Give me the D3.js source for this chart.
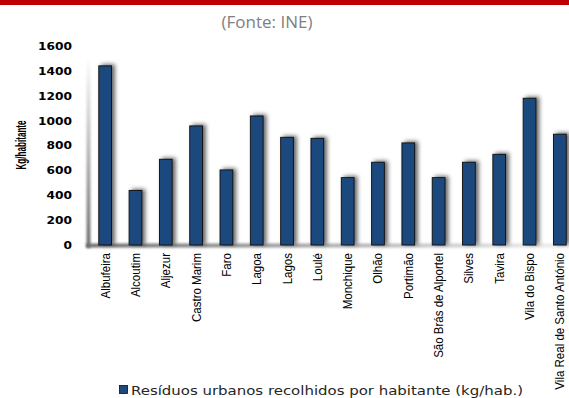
<!DOCTYPE html>
<html>
<head>
<meta charset="utf-8">
<script src="https://cdn.jsdelivr.net/npm/d3@7"></script>
<style>
  html, body { margin: 0; padding: 0; background: #fff; }
  svg { display: block; }
</style>
</head>
<body>
<svg id="chart" width="569" height="398"></svg>
<script>
// Municipalities of the Algarve and urban waste collected per inhabitant
const categories = ["Albufeira", "Alcoutim", "Aljezur", "Castro Marim", "Faro", "Lagoa",
  "Lagos", "Loulé", "Monchique", "Olhão", "Portimão", "São Brás de Alportel",
  "Silves", "Tavira", "Vila do Bispo", "Vila Real de Santo António"];
const wastePerInhabitant = [1444, 440, 691, 960, 605, 1040, 868, 860, 543, 667, 823, 543,
  667, 731, 1183, 893];
const yTicks = [0, 200, 400, 600, 800, 1000, 1200, 1400, 1600];
const seriesName = "Resíduos urbanos recolhidos por habitante (kg/hab.)";
const subtitle = "(Fonte: INE)";
const yTitle = "Kg/habitante";

const svg = d3.select("#chart");
const defs = svg.append("defs");

const x = d3.scaleBand().domain(categories).range([90, 575]).paddingInner(0.58).paddingOuter(0.29);
const y = d3.scaleLinear().domain([0, 1600]).range([245, 46.5]);

// drop shadow for the bars
const shadow = defs.append("filter").attr("id", "barShadow")
  .attr("x", "-60%").attr("y", "-20%").attr("width", "260%").attr("height", "140%");
shadow.append("feDropShadow").attr("dx", 3).attr("dy", -1)
  .attr("stdDeviation", 2).attr("flood-color", "#000").attr("flood-opacity", 0.6);

// gradients for the axis frame
const gV = defs.append("linearGradient").attr("id", "gradV")
  .attr("x1", 0).attr("y1", 1).attr("x2", 0).attr("y2", 0);
gV.append("stop").attr("offset", "0%").attr("stop-color", "#6e6e6e");
gV.append("stop").attr("offset", "100%").attr("stop-color", "#ffffff");
const gH = defs.append("linearGradient").attr("id", "gradH")
  .attr("x1", 0).attr("y1", 0).attr("x2", 1).attr("y2", 0);
gH.append("stop").attr("offset", "0%").attr("stop-color", "#6e6e6e");
gH.append("stop").attr("offset", "100%").attr("stop-color", "#f0f0f0");
const axShadow = defs.append("filter").attr("id", "axShadow")
  .attr("x", "-50%").attr("y", "-50%").attr("width", "200%").attr("height", "200%");
axShadow.append("feGaussianBlur").attr("stdDeviation", 0.9);

// red header band
svg.append("rect").attr("x", 0).attr("y", 0).attr("width", 569).attr("height", 5).attr("fill", "#c00000");

// subtitle
svg.append("text").attr("x", 267).attr("y", 27.5).attr("text-anchor", "middle")
  .attr("font-family", "'Open Sans', sans-serif").attr("font-size", 17)
  .attr("fill", "#7f7f7f").text(subtitle);

// axis frame: soft left wall and floor
const frame = svg.append("g");
frame.append("rect").attr("x", 86.5).attr("y", 58).attr("width", 4).attr("height", y(0) - 58 + 3)
  .attr("fill", "url(#gradV)").attr("filter", "url(#axShadow)");
frame.append("rect").attr("x", 86).attr("y", y(0) - 1.5).attr("width", 483).attr("height", 4)
  .attr("fill", "url(#gradH)").attr("filter", "url(#axShadow)");

// bars
svg.append("g").selectAll("rect").data(categories).join("rect")
  .attr("x", d => x(d))
  .attr("y", (d, i) => y(wastePerInhabitant[i]))
  .attr("width", x.bandwidth())
  .attr("height", (d, i) => y(0) - y(wastePerInhabitant[i]))
  .attr("fill", "#1f497d")
  .attr("stroke", "#0d0d0d").attr("stroke-width", 0.9)
  .attr("filter", "url(#barShadow)");

// y axis tick labels (wide bold digits)
const yAxis = d3.axisLeft(y).tickValues(yTicks).tickFormat(d3.format("d")).tickSize(0).tickPadding(0);
const gy = svg.append("g").attr("transform", "translate(72,0)").call(yAxis);
gy.select(".domain").remove();
gy.selectAll("text")
  .attr("font-family", "'DejaVu Sans', sans-serif").attr("font-weight", "bold")
  .attr("font-size", 10).attr("fill", "#000")
  .attr("transform", "scale(1.22,1)");

// y axis title (condensed along its length)
svg.append("text").attr("transform", "translate(26,145) rotate(-90) scale(0.58,1)")
  .attr("text-anchor", "middle")
  .attr("font-family", "'Liberation Sans', sans-serif")
  .attr("font-weight", "bold").attr("font-size", 14).text(yTitle);

// x axis category labels
const xAxis = d3.axisBottom(x).tickSize(0).tickPadding(0);
const gx = svg.append("g").attr("transform", `translate(0,${y(0) + 8})`).call(xAxis);
gx.select(".domain").remove();
gx.selectAll("text")
  .attr("font-family", "'Liberation Sans', sans-serif")
  .attr("font-size", 12.8).attr("fill", "#000")
  .attr("text-anchor", "end").attr("dy", "0.35em").attr("y", 0)
  .attr("transform", "rotate(-90) scale(0.9,1)");

// legend
const lg = svg.append("g");
lg.append("rect").attr("x", 119.5).attr("y", 385.5).attr("width", 8).attr("height", 8)
  .attr("fill", "#1f497d").attr("stroke", "#0d0d0d").attr("stroke-width", 0.8);
lg.append("text").attr("x", 131).attr("y", 394.5)
  .attr("font-family", "'DejaVu Sans', sans-serif").attr("font-size", 12)
  .attr("textLength", 392).attr("lengthAdjust", "spacingAndGlyphs")
  .attr("fill", "#262626").text(seriesName);
</script>
</body>
</html>
